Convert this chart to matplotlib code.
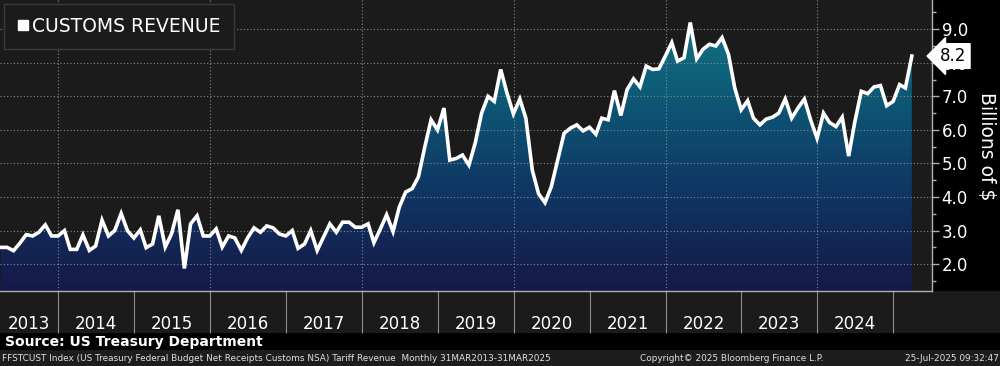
import numpy as np
import pandas as pd
import matplotlib.pyplot as plt
import matplotlib.dates as mdates
from matplotlib.colors import LinearSegmentedColormap
from matplotlib.lines import Line2D
from matplotlib.patches import Rectangle

plt.rcParams['font.family'] = ['DejaVu Sans']

# monthly customs receipts, billions of $, Mar 2013 - Mar 2025
revenue = [
    2.50, 2.50, 2.40, 2.62, 2.88, 2.84, 2.95, 3.17, 2.84, 2.84, 3.00, 2.44,
    2.44, 2.87, 2.41, 2.54, 3.31, 2.84, 3.00, 3.51, 3.00, 2.78, 3.02, 2.49,
    2.60, 3.44, 2.51, 2.90, 3.62, 1.87, 3.20, 3.44, 2.84, 2.84, 3.05, 2.51,
    2.84, 2.78, 2.41, 2.78, 3.08, 2.95, 3.14, 3.08, 2.90, 2.84, 3.00, 2.47,
    2.60, 3.00, 2.41, 2.80, 3.20, 2.95, 3.25, 3.25, 3.10, 3.10, 3.20, 2.64,
    3.05, 3.47, 2.97, 3.70, 4.15, 4.25, 4.60, 5.50, 6.30, 6.00, 6.65, 5.10,
    5.15, 5.25, 4.95, 5.60, 6.50, 7.00, 6.85, 7.80, 7.10, 6.48, 6.92, 6.35,
    4.80, 4.10, 3.83, 4.30, 5.10, 5.90, 6.05, 6.15, 5.97, 6.08, 5.87, 6.35,
    6.30, 7.17, 6.43, 7.20, 7.52, 7.28, 7.90, 7.80, 7.82, 8.20, 8.60, 8.05,
    8.15, 9.20, 8.12, 8.40, 8.55, 8.50, 8.75, 8.25, 7.25, 6.60, 6.87, 6.35,
    6.15, 6.32, 6.38, 6.50, 6.92, 6.35, 6.65, 6.92, 6.30, 5.75, 6.50, 6.22,
    6.10, 6.38, 5.22, 6.25, 7.15, 7.08, 7.28, 7.32, 6.72, 6.85, 7.35, 7.25,
    8.20,
]
dates = pd.date_range("2013-03-31", periods=len(revenue), freq="ME")
year_labels = [str(y) for y in range(2013, 2025)]
y_ticks = [2.0, 3.0, 4.0, 5.0, 6.0, 7.0, 8.0, 9.0]

fig = plt.figure(figsize=(10, 3.66), dpi=100, facecolor="black")

# background bands (x-label strip, footer strip) - behind the axes
fig.patches.append(Rectangle((0, 33 / 366), 1, 42 / 366, transform=fig.transFigure,
                             facecolor="#1b1b1b", edgecolor="none", zorder=-1))
fig.patches.append(Rectangle((0, 0), 1, 16 / 366, transform=fig.transFigure,
                             facecolor="#1d1d1d", edgecolor="none", zorder=-1))

ax = fig.add_axes([0, 1 - 291 / 366, 0.932, 291 / 366])
ax.set_facecolor("#1b1b1b")

ylo, yhi = 1.2, 9.87
x0 = mdates.date2num(pd.Timestamp("2013-03-27"))
x1 = mdates.date2num(pd.Timestamp("2025-07-06"))

# gradient area under the line
fill = ax.fill_between(dates, revenue, ylo, color="none", linewidth=0)
cmap = LinearSegmentedColormap.from_list(
    "bbg", [(0.0, "#161848"), (0.35, "#0f3764"), (0.7, "#0d5c78"), (1.0, "#137a88")])
grad = np.linspace(0, 1, 256).reshape(-1, 1)
im = ax.imshow(grad, cmap=cmap, aspect="auto", origin="lower",
               extent=[x0, x1, ylo, yhi], zorder=1)
im.set_clip_path(fill.get_paths()[0], transform=ax.transData)

ax.plot(dates, revenue, color="white", linewidth=2.6, zorder=3,
        solid_joinstyle="miter")

ax.set_xlim(x0, x1)
ax.set_ylim(ylo, yhi)

# grid
ax.set_axisbelow("line")
ax.grid(axis="y", color="#8a8a8a", linestyle=(0, (1, 2)), linewidth=0.8)
for y in range(2014, 2025, 2):
    ax.axvline(mdates.date2num(pd.Timestamp(f"{y}-01-01")), color="#8a8a8a",
               linestyle=(0, (1, 2)), linewidth=0.8, zorder=1.5)

# y axis on the right
ax.yaxis.tick_right()
ax.set_yticks(y_ticks)
ax.set_yticklabels([f"{v:.1f}" for v in y_ticks])
ax.set_yticks(np.arange(1.5, 9.6, 0.5), minor=True)
ax.tick_params(axis="y", which="major", colors="#b0b0b0", labelcolor="white",
               length=5, width=1, labelsize=12, pad=2)
ax.tick_params(axis="y", which="minor", colors="#b0b0b0", length=3, width=1)

# x axis: dividers at year starts, labels centred in each year
year_starts = [mdates.date2num(pd.Timestamp(f"{y}-01-01")) for y in range(2014, 2026)]
label_pos = []
for y in range(2013, 2025):
    a = max(mdates.date2num(pd.Timestamp(f"{y}-01-01")), x0)
    b = mdates.date2num(pd.Timestamp(f"{y + 1}-01-01"))
    label_pos.append((a + b) / 2)
ax.xaxis.set_major_locator(plt.FixedLocator(year_starts))
ax.xaxis.set_major_formatter(plt.NullFormatter())
ax.xaxis.set_minor_locator(plt.FixedLocator(label_pos))
ax.xaxis.set_minor_formatter(plt.FixedFormatter(year_labels))
ax.tick_params(axis="x", which="major", colors="#8c8c8c", length=30, width=0.8)
ax.tick_params(axis="x", which="minor", length=0, labelcolor="white",
               labelsize=12, pad=17)

for s in ["top", "left"]:
    ax.spines[s].set_visible(False)
for s in ["right", "bottom"]:
    ax.spines[s].set_color("#b0b0b0")
    ax.spines[s].set_linewidth(1)

# legend
handle = Line2D([], [], marker="s", color="white", linestyle="none", markersize=7)
leg = ax.legend([handle], ["CUSTOMS REVENUE"], loc="upper left",
                bbox_to_anchor=(0.0, 1.0), borderaxespad=0.2, fontsize=13.5,
                frameon=True, fancybox=False, facecolor="#1b1b1b",
                edgecolor="#3a3a3a", framealpha=1, handlelength=0.6,
                handletextpad=0.2, borderpad=0.7, labelcolor="white")
leg.get_frame().set_linewidth(1)

# last value tag
ax.annotate(f"{revenue[-1]:.1f}", xy=(1, revenue[-1]),
            xycoords=("axes fraction", "data"), xytext=(6, 0),
            textcoords="offset points", va="center", ha="left", color="black",
            fontsize=12, annotation_clip=False, zorder=6,
            bbox=dict(boxstyle="larrow,pad=0.2", fc="white", ec="white"))

fig.text(0.987, 1 - 146 / 366, "Billions of $", rotation=270, color="white",
         fontsize=13.5, ha="center", va="center")

fig.text(0.005, 1 - 342 / 366, "Source: US Treasury Department", color="white",
         fontsize=10, fontweight="bold", ha="left", va="center")
fig.text(0.002, 1 - 358.5 / 366,
         "FFSTCUST Index (US Treasury Federal Budget Net Receipts Customs NSA) "
         "Tariff Revenue  Monthly 31MAR2013-31MAR2025",
         color="#e0e0e0", fontsize=6.4, ha="left", va="center")
fig.text(0.640, 1 - 358.5 / 366, "Copyright\u00a9 2025 Bloomberg Finance L.P.",
         color="#e0e0e0", fontsize=6.4, ha="left", va="center")
fig.text(0.999, 1 - 358.5 / 366, "25-Jul-2025 09:32:47", color="#e0e0e0",
         fontsize=6.4, ha="right", va="center")

fig.savefig("out.png", dpi=100, facecolor=fig.get_facecolor())
